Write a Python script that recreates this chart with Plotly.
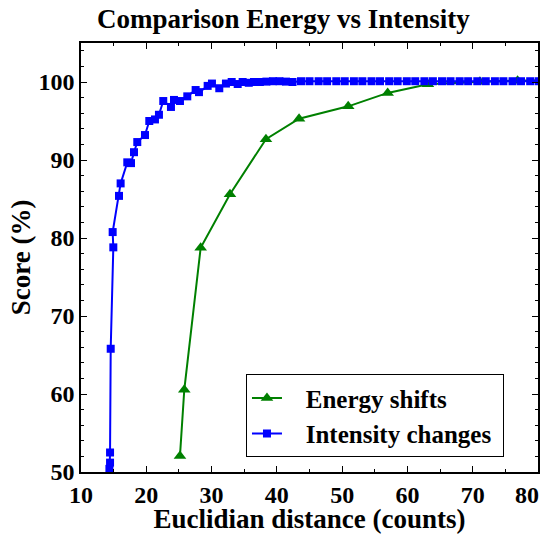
import plotly.graph_objects as go

# Energy shifts (green triangles)
energy_x = [25.16, 25.82, 28.33, 32.82, 38.33, 43.4, 50.93, 56.97, 63.14, 71.1, 76.87, 84.0]
energy_y = [52.06, 60.54, 78.75, 85.6, 92.67, 95.3, 96.88, 98.6, 99.7, 100.04, 100.17, 100.3]

# Intensity changes (blue squares)
intensity_x = [14.2, 14.35, 14.45, 14.45, 14.55, 14.95, 14.85, 15.82, 16.07, 17.09,
               17.66, 18.12, 18.62, 19.8, 20.46, 21.33, 21.94, 22.6, 23.78, 24.24,
               25.16, 26.28, 27.56, 28.07, 29.4, 30.06, 31.18, 32.2, 33.08, 34.0,
               34.76, 35.7, 36.5, 37.4, 38.4, 39.4, 40.4, 41.4, 42.4, 43.7,
               45.0, 46.4, 47.7, 49.1, 50.4, 51.8, 53.1, 54.5, 55.8, 57.2,
               58.5, 59.9, 61.2, 62.6, 63.9, 65.3, 66.6, 68.0, 69.3, 70.7,
               72.0, 73.4, 74.7, 76.1, 77.4, 78.8, 80.1, 81.5]
intensity_y = [45.0, 50.4, 51.2, 52.5, 65.8, 78.8, 80.76, 85.4, 87.0, 89.7,
               89.6, 91.0, 92.3, 93.2, 95.0, 95.2, 95.8, 97.56, 96.8, 97.7,
               97.56, 98.16, 98.97, 98.7, 99.5, 99.8, 99.2, 99.8, 100.0, 99.74,
               100.0, 99.9, 100.0, 100.0, 100.05, 100.1, 100.1, 100.05, 100.0, 100.1,
               100.1, 100.1, 100.1, 100.1, 100.1, 100.1, 100.1, 100.1, 100.1, 100.1,
               100.1, 100.1, 100.1, 100.1, 100.1, 100.1, 100.1, 100.1, 100.1, 100.1,
               100.1, 100.1, 100.1, 100.1, 100.1, 100.1, 100.1, 100.1]

x_ticks = [10, 20, 30, 40, 50, 60, 70, 80]
y_ticks = [50, 60, 70, 80, 90, 100]

FONT = "Liberation Serif, Times New Roman, serif"
NB = "\u00a0"

fig = go.Figure()
fig.add_trace(go.Scatter(
    x=energy_x, y=energy_y, mode="lines+markers", name=NB * 3 + "Energy shifts",
    line=dict(color="#008000", width=2),
    marker=dict(symbol="triangle-up", size=11, color="#008000"),
))
fig.add_trace(go.Scatter(
    x=intensity_x, y=intensity_y, mode="lines+markers",
    name=NB * 3 + "Intensity changes" + NB,
    line=dict(color="#0000ff", width=2),
    marker=dict(symbol="square", size=8, color="#0000ff"),
))

axis_common = dict(
    showline=True, linecolor="black", linewidth=1.5, mirror="ticks",
    ticks="inside", ticklen=6, tickwidth=1, tickcolor="black",
    showgrid=False, zeroline=False, automargin=False,
    tickfont=dict(family=FONT, size=24, color="black", weight="bold"),
)

# last x label sits at the window edge, so it is drawn pulled in (as in the original)
fig.update_xaxes(
    range=[10, 80], tickvals=x_ticks,
    ticktext=[str(v) for v in x_ticks[:-1]] + [""],
    minor=dict(dtick=5, ticks="inside", ticklen=3, tickcolor="black", showgrid=False),
    title=dict(text="Euclidian distance (counts)", standoff=0,
               font=dict(family=FONT, size=27, color="black", weight="bold")),
    **axis_common,
)
fig.update_yaxes(
    range=[50, 105], tickvals=y_ticks,
    minor=dict(dtick=2, ticks="inside", ticklen=3, tickcolor="black", showgrid=False),
    title=dict(text="Score (%)", standoff=0,
               font=dict(family=FONT, size=27, color="black", weight="bold")),
    **axis_common,
)

fig.add_annotation(
    x=x_ticks[-1], y=0, xref="x", yref="paper", text=str(x_ticks[-1]),
    showarrow=False, xanchor="right", yanchor="top", xshift=3, yshift=-8,
    font=dict(family=FONT, size=24, color="black", weight="bold"),
)

fig.update_layout(
    width=541, height=534,
    title=dict(text="Comparison Energy vs Intensity", x=0.524, xanchor="center",
               y=0.965, yanchor="middle",
               font=dict(family=FONT, size=27, color="black", weight="bold")),
    font=dict(family=FONT, color="black", weight="bold"),
    paper_bgcolor="white", plot_bgcolor="white",
    margin=dict(l=81, r=3, t=43, b=62, autoexpand=False),
    showlegend=True,
    legend=dict(
        x=0.361, y=0.228, xanchor="left", yanchor="top",
        bgcolor="white", bordercolor="black", borderwidth=1,
        font=dict(family=FONT, size=25, color="black", weight="bold"),
        tracegroupgap=0, itemwidth=30,
    ),
)

# drop the default 8px body margin so the figure fills the window exactly
fig.write_html("out.html", config={"displayModeBar": False},
               post_script="document.body.style.margin='0';")
